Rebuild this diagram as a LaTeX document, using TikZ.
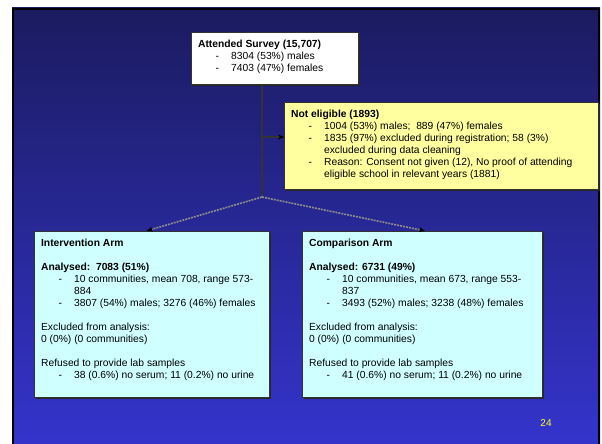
\documentclass[tikz,border=0pt]{standalone}
\usepackage{fontspec}
\setmainfont{Liberation Sans}
\usepackage{xcolor}
\usepackage{tikz}
\usetikzlibrary{positioning,arrows.meta,shadows}

\definecolor{slidetop}{RGB}{27,27,96}
\definecolor{slidebottom}{RGB}{52,52,204}
\definecolor{noteyellow}{RGB}{255,255,160}
\definecolor{armcyan}{RGB}{208,255,255}
\definecolor{pageyellow}{RGB}{255,255,40}

\newcommand{\dashitem}[1]{\par\hangindent=33pt\hangafter=0\noindent\llap{-\hspace{12pt}}#1}
\newcommand{\boxtext}[3]{\parbox[t][#2][t]{#1}{\raggedright #3}}

\tikzset{
	box/.style={anchor=north west, draw=black!80, line width=1.2pt, inner xsep=6.5pt, inner ysep=7pt,
		drop shadow={shadow xshift=1pt, shadow yshift=-1pt, fill=black!85, opacity=1},
		font=\fontsize{10.3}{12}\selectfont},
	trunk/.style={draw=black!80, line width=1.2pt},
	branch/.style={draw=gray!90, line width=1.6pt, dash pattern=on 2pt off 1pt, -{Latex[length=6pt, width=5pt, color=black]}}
}

\begin{document}
\begin{tikzpicture}[x=1pt, y=-1pt]
	\useasboundingbox (0,0) rectangle (602,444);
	\fill[white] (0,0) rectangle (602,444);
	\shade[top color=slidetop, bottom color=slidebottom] (12,8) rectangle (600,444);
	\draw[line width=2pt] (13,444) -- (13,9) -- (599,9) -- (599,444);

	\node[box, fill=white] (survey) at (191,32) {\boxtext{154pt}{38pt}{%
		\textbf{Attended Survey (15,707)}
		\dashitem{8304 (53\%) males}
		\dashitem{7403 (47\%) females}}};
	\node[box, fill=noteyellow] (notelig) at (284,102) {\boxtext{301pt}{73pt}{%
		\textbf{Not eligible (1893)}
		\dashitem{1004 (53\%) males;\ \ 889 (47\%) females}
		\dashitem{1835 (97\%) excluded during registration; 58 (3\%)\newline excluded during data cleaning}
		\dashitem{Reason: Consent not given (12), No proof of attending\newline eligible school in relevant years (1881)}}};
	\node[box, fill=armcyan] (interv) at (34,231) {\boxtext{222pt}{152pt}{%
		\textbf{Intervention Arm}\par\vspace{12pt}
		\textbf{Analysed:\ \ 7083 (51\%)}
		\dashitem{10 communities, mean 708, range 573-\newline 884}
		\dashitem{3807 (54\%) males; 3276 (46\%) females}
		\par\vspace{12pt}
		Excluded from analysis:\newline 0 (0\%) (0 communities)
		\par\vspace{12pt}
		Refused to provide lab samples
		\dashitem{38 (0.6\%) no serum; 11 (0.2\%) no urine}}};
	\node[box, fill=armcyan] (comp) at (302,231) {\boxtext{227pt}{152pt}{%
		\textbf{Comparison Arm}\par\vspace{12pt}
		\textbf{Analysed: 6731 (49\%)}
		\dashitem{10 communities, mean 673, range 553-\newline 837}
		\dashitem{3493 (52\%) males; 3238 (48\%) females}
		\par\vspace{12pt}
		Excluded from analysis:\newline 0 (0\%) (0 communities)
		\par\vspace{12pt}
		Refused to provide lab samples
		\dashitem{41 (0.6\%) no serum; 11 (0.2\%) no urine}}};
	\node[text=pageyellow, font=\fontsize{10}{12}\selectfont] (pagenum) at (546,423) {24};

	\coordinate (split) at (262,197);
	\coordinate (tee) at (262,137);
	\draw[trunk] (survey.south -| split) -- (split);
	\draw[trunk, -{Stealth[length=6pt, width=5pt, color=black]}] (tee) -- (tee -| notelig.west);
	\draw[branch] (split) -- ([xshift=-6pt]interv.north);
	\draw[branch] (split) -- ([xshift=3pt]comp.north);
\end{tikzpicture}
\end{document}
